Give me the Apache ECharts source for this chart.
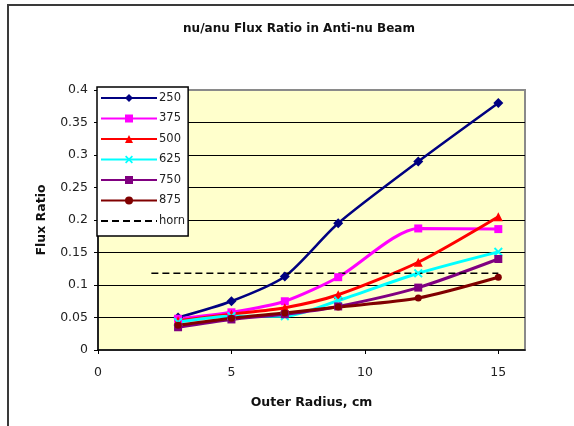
<!DOCTYPE html>
<html>
<head>
<meta charset="utf-8">
<script src="https://cdn.jsdelivr.net/npm/echarts@6/dist/echarts.min.js"></script>
<style>html,body{margin:0;padding:0;background:#fff}#c{width:574px;height:426px}</style>
</head>
<body>
<div id="c"></div>
<script>
const radius = [3, 5, 7, 9, 12, 15];
const s250 = [0.050, 0.075, 0.113, 0.195, 0.290, 0.380];
const s375 = [0.048, 0.058, 0.075, 0.112, 0.187, 0.186];
const s500 = [0.045, 0.055, 0.065, 0.085, 0.135, 0.205];
const s625 = [0.043, 0.052, 0.052, 0.076, 0.118, 0.151];
const s750 = [0.035, 0.047, 0.055, 0.067, 0.096, 0.140];
const s875 = [0.038, 0.049, 0.057, 0.066, 0.080, 0.112];
const hornX = [2, 15];
const hornY = [0.118, 0.118];
const xTicks = [0, 5, 10, 15];

const pairs = (xs, ys) => xs.map((x, i) => [x, ys[i]]);
const FONT = 'DejaVu Sans';
const xPath = 'path://M0 1.5L1.5 0L5 3.5L8.5 0L10 1.5L6.5 5L10 8.5L8.5 10L5 6.5L1.5 10L0 8.5L3.5 5Z';

function mk(name, ys, color, symbol, size, width) {
  return {
    name, type: 'line', data: pairs(radius, ys), smooth: 0.25,
    symbol, symbolSize: size,
    lineStyle: { color, width },
    itemStyle: { color, borderColor: color, borderWidth: 0 },
    emphasis: { disabled: true }
  };
}

const chart = echarts.init(document.getElementById('c'), null, { renderer: 'canvas' });
chart.setOption({
  animation: false,
  backgroundColor: '#ffffff',
  graphic: [{
    type: 'rect', shape: { x: 8, y: 5, width: 620, height: 500 },
    style: { fill: 'none', stroke: '#3a3a3a', lineWidth: 2 }, z: 100
  }],
  title: {
    text: 'nu/anu Flux Ratio in Anti-nu Beam',
    left: 294, textAlign: 'center', top: 18,
    textStyle: { fontFamily: FONT, fontSize: 12, fontWeight: 'bold', color: '#111' }
  },
  grid: {
    left: 98, right: 49, top: 90, bottom: 76,
    show: true, backgroundColor: '#FFFFCC', borderColor: '#8a8a8a', borderWidth: 2
  },
  legend: {
    orient: 'vertical', left: 97, top: 87,
    backgroundColor: '#ffffff', borderColor: '#000', borderWidth: 1.5,
    padding: [5, 3, 9, 3],
    itemWidth: 56, itemHeight: 10, itemGap: 8.5,
    textStyle: { fontFamily: FONT, fontSize: 11.5, color: '#222', padding: [0, 0, 0, -3] },
    data: ['250', '375', '500', '625', '750', '875',
      { name: 'horn', itemStyle: { opacity: 0 } }]
  },
  xAxis: {
    type: 'value', min: 0, max: 16, interval: 5,
    name: 'Outer Radius, cm', nameLocation: 'middle', nameGap: 46,
    nameTextStyle: { fontFamily: FONT, fontSize: 12.5, fontWeight: 'bold', color: '#111' },
    axisLine: { show: true, onZero: false, lineStyle: { color: '#000', width: 1.5 } },
    axisTick: { show: true, length: 4, customValues: xTicks, lineStyle: { color: '#000' } },
    axisLabel: { customValues: xTicks, margin: 16, fontFamily: FONT, fontSize: 12.5, color: '#222' },
    splitLine: { show: false }
  },
  yAxis: {
    type: 'value', min: 0, max: 0.4, interval: 0.05,
    name: 'Flux Ratio', nameLocation: 'middle', nameGap: 50,
    nameTextStyle: { fontFamily: FONT, fontSize: 12.5, fontWeight: 'bold', color: '#111' },
    axisLine: { show: true, lineStyle: { color: '#000', width: 1.5 } },
    axisTick: { show: true, length: 4, lineStyle: { color: '#000' } },
    axisLabel: { margin: 10, fontFamily: FONT, fontSize: 12.5, color: '#222' },
    splitLine: { show: true, showMaxLine: false, showMinLine: false, lineStyle: { color: '#000', width: 1 } }
  },
  series: [
    mk('250', s250, '#000080', 'diamond', 10, 2.5),
    mk('375', s375, '#FF00FF', 'rect', 8, 3),
    mk('500', s500, '#FF0000', 'triangle', 9, 3),
    mk('625', s625, '#00FFFF', xPath, 9, 3),
    mk('750', s750, '#800080', 'rect', 8, 3),
    mk('875', s875, '#800000', 'circle', 7, 3),
    {
      name: 'horn', type: 'line', data: pairs(hornX, hornY), symbol: 'none',
      lineStyle: { color: '#000', width: 1.5, type: [7, 4] },
      itemStyle: { color: '#000' },
      emphasis: { disabled: true }
    }
  ]
});
</script>
</body>
</html>
